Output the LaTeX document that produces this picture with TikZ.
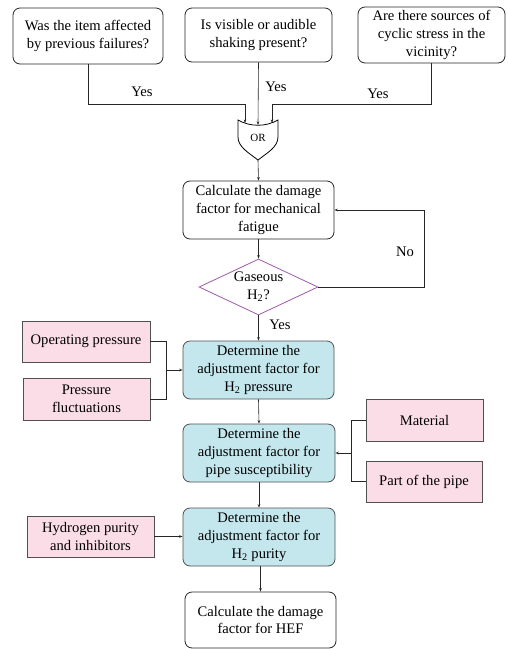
\documentclass[tikz,border=0pt]{standalone}
\usepackage{fontspec}
\setmainfont{Liberation Serif}
\usetikzlibrary{shapes.geometric,arrows.meta}
\definecolor{pinkfill}{HTML}{FADDE7}
\definecolor{bluefill}{HTML}{C4E7EE}
\definecolor{edgegray}{HTML}{505050}
\definecolor{diapurple}{HTML}{9E5AAB}
\begin{document}
\begin{tikzpicture}[x=1pt,y=-1pt,
  font=\fontsize{14.6}{17.6}\selectfont,
  sz/.style 2 args={minimum width=#1pt, minimum height=#2pt, inner sep=0pt, align=center},
  whitebox/.style={draw=black!85, line width=0.8pt, rounded corners=7pt, fill=white},
  bluebox/.style={draw=edgegray, line width=0.8pt, rounded corners=7pt, fill=bluefill},
  pinkbox/.style={draw=edgegray, line width=0.8pt, fill=pinkfill},
  conn/.style={draw=black!85, line width=0.6pt},
  arr/.style={conn, -{Stealth[length=3.5pt,width=2.6pt]}},
  lbl/.style={inner sep=0pt}
]
\useasboundingbox (0,0) rectangle (507,649);

% top questions
\node[whitebox, sz={150}{56}] (q1) at (88,36) {Was the item affected\\by previous failures?};
\node[whitebox, sz={147}{54}] (q2) at (258.5,35) {Is visible or audible\\shaking present?};
\node[whitebox, sz={147}{56}] (q3) at (431.5,35) {Are there sources of\\cyclic stress in the\\vicinity?};

% OR gate
\draw[line width=0.8pt, fill=white] (238,120) .. controls (250,127) and (266,127) .. (278,120)
  -- (278,137) .. controls (278,147) and (267,153) .. (258,160)
  .. controls (249,153) and (238,147) .. (238,137) -- cycle;
\node[lbl, font=\fontsize{11}{12}\selectfont] (or) at (258,138) {OR};
\coordinate (g1) at (245,123);
\coordinate (g2) at (258,125);
\coordinate (g3) at (272,123);
\coordinate (gout) at (258,160);
\coordinate (yl) at (0,104);

\draw[arr] (q1.south) -- (q1.south |- yl) -| (g1);
\draw[arr] (q2.south) -- (g2);
\draw[arr] (q3.south) -- (q3.south |- yl) -| (g3);
\node[lbl] (y1) at (142,92) {Yes};
\node[lbl] (y2) at (276,87) {Yes};
\node[lbl] (y3) at (378,94) {Yes};

% calc mech fatigue
\node[whitebox, sz={151}{58}] (calc) at (258.5,210) {Calculate the damage\\factor for mechanical\\fatigue};
\draw[arr] (gout) -- (calc.north);

% diamond
\node[diamond, draw=diapurple, line width=0.8pt, fill=white, minimum width=119pt, minimum height=56pt, inner sep=0pt, aspect=2.1, align=center] (dia) at (258.5,287) {};
\node[lbl, align=center] (diat) at (258.5,287) {Gaseous\\H\textsubscript{2}?};
\draw[arr] (calc.south) -- (dia.north);
\coordinate (nox) at (424,0);
\draw[arr] (dia.east) -- (dia.east -| nox) |- (calc.east);
\node[lbl] (no) at (405,252) {No};

% blue box 1
\node[bluebox, sz={151}{58}] (b1) at (258.5,370) {Determine the\\adjustment factor for\\H\textsubscript{2} pressure};
\draw[arr] (dia.south) -- (b1.north);
\node[lbl] (yes4) at (280,325) {Yes};

\node[pinkbox, sz={128}{41}] (op) at (86,341.5) {Operating pressure};
\node[pinkbox, sz={127}{42}] (pf) at (86.5,399) {Pressure\\fluctuations};
\coordinate (jl) at (166,370);
\draw[conn] (op.east) -| (jl);
\draw[conn] (pf.east) -| (jl);
\draw[arr] (jl) -- (b1.west);

% blue box 2
\node[bluebox, sz={152}{58}] (b2) at (259,453) {Determine the\\adjustment factor for\\pipe susceptibility};
\draw[arr] (b1.south) -- (b2.north);

\node[pinkbox, sz={117}{42}] (mat) at (424.5,420) {Material};
\node[pinkbox, sz={116}{41}] (part) at (424,481.5) {Part of the pipe};
\coordinate (jr) at (351,453);
\draw[conn] (mat.west) -| (jr);
\draw[conn] (part.west) -| (jr);
\draw[arr] (jr) -- (b2.east);

% blue box 3
\node[bluebox, sz={152}{58}] (b3) at (259,537) {Determine the\\adjustment factor for\\H\textsubscript{2} purity};
\draw[arr] (b2.south) -- (b3.north);

\node[pinkbox, sz={127}{41}] (hp) at (90.5,536.5) {Hydrogen purity\\and inhibitors};
\draw[arr] (hp.east) -- (hp.east -| b3.west);

% final
\node[whitebox, sz={151}{56}] (fin) at (260.5,620) {Calculate the damage\\factor for HEF};
\draw[arr] (b3.south -| fin.north) -- (fin.north);

\end{tikzpicture}
\end{document}
